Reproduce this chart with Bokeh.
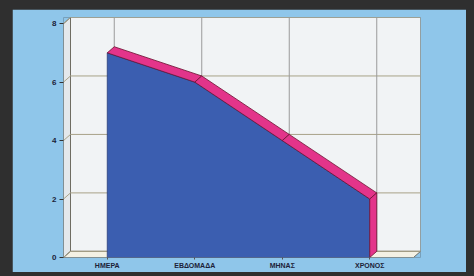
from bokeh.plotting import figure
from bokeh.models import FixedTicker
from bokeh.embed import file_html
from bokeh.resources import INLINE

# ---- data ----
categories = ["ΗΜΕΡΑ", "ΕΒΔΟΜΑΔΑ", "ΜΗΝΑΣ", "ΧΡΟΝΟΣ"]
values = [7, 6, 4, 2]
y_ticks = [0, 2, 4, 6, 8]

# ---- style ----
DX = 0.08    # depth offset in x (category units)
DY = 0.21    # depth offset in y (value units)
BG = "#8fc6ea"
WALL = "#f1f3f5"
SIDE = "#e4e8eb"
FLOOR = "#f4f1e4"
GRID = "#a8a288"
BLUE = "#3b5eb0"
PINK = "#e3348a"
EDGE = "#6b1030"
TXT = "#1c2238"

n = len(categories)
xs = list(range(n))
x0, x1 = -0.5, n - 0.5
ymax = max(y_ticks)

p = figure(width=454, height=263, output_backend="svg", toolbar_location=None,
           x_range=(x0, x1 + DX), y_range=(0, ymax + DY),
           min_border_left=51, min_border_right=46, min_border_top=8, min_border_bottom=15)
p.margin = (9, 0, 0, 12)
p.background_fill_color = BG
p.border_fill_color = BG
p.outline_line_color = None
p.grid.visible = False

# back wall
p.quad(left=[x0 + DX], right=[x1 + DX], bottom=[DY], top=[ymax + DY],
       fill_color=WALL, line_color="#8f8a78", line_width=1)
# left wall
p.patch([x0, x0 + DX, x0 + DX, x0], [0, DY, ymax + DY, ymax],
        fill_color=SIDE, line_color="#6f6c62", line_width=1)
# floor
p.patch([x0, x1, x1 + DX, x0 + DX], [0, 0, DY, DY],
        fill_color=FLOOR, line_color="#6f6c62", line_width=1)

# grid on back wall and left wall
for t in y_ticks:
    p.line([x0 + DX, x1 + DX], [t + DY, t + DY], line_color=GRID, line_width=1)
    p.line([x0, x0 + DX], [t, t + DY], line_color=GRID, line_width=1)
for i in xs:
    p.line([i + DX, i + DX], [DY, ymax + DY], line_color="#9a9a9a", line_width=1)

# area front face
px = [xs[0]] + xs + [xs[-1]]
py = [0] + values + [0]
p.patch(px, py, fill_color=BLUE, line_color="#2b3f7a", line_width=0.8)

# top ribbon
for i in range(n - 1):
    p.patch([xs[i], xs[i + 1], xs[i + 1] + DX, xs[i] + DX],
            [values[i], values[i + 1], values[i + 1] + DY, values[i] + DY],
            fill_color=PINK, line_color=EDGE, line_width=0.8)
# right side face
p.patch([xs[-1], xs[-1], xs[-1] + DX, xs[-1] + DX],
        [0, values[-1], values[-1] + DY, DY],
        fill_color=PINK, line_color=EDGE, line_width=0.8)

# axes
p.yaxis.ticker = FixedTicker(ticks=y_ticks)
p.yaxis.axis_line_color = None
p.yaxis.major_tick_in = 0
p.yaxis.major_tick_out = 4
p.yaxis.minor_tick_line_color = None
p.yaxis.major_tick_line_color = "#333333"
p.yaxis.major_label_text_font = "Liberation Sans"
p.yaxis.major_label_text_font_style = "bold"
p.yaxis.major_label_text_font_size = "8px"
p.yaxis.major_label_text_color = TXT
p.yaxis.major_label_standoff = 3

p.xaxis.ticker = FixedTicker(ticks=xs)
p.xaxis.major_label_overrides = {i: c for i, c in zip(xs, categories)}
p.xaxis.axis_line_color = None
p.xaxis.major_tick_in = 0
p.xaxis.major_tick_out = 2
p.xaxis.minor_tick_line_color = None
p.xaxis.major_tick_line_color = "#555555"
p.xaxis.major_label_text_font = "Liberation Sans"
p.xaxis.major_label_text_font_style = "bold"
p.xaxis.major_label_text_font_size = "7px"
p.xaxis.major_label_text_color = TXT
p.xaxis.major_label_standoff = 2

html = file_html(p, INLINE)
html = html.replace("</head>", "<style>html,body{background:#2f2f2f;}</style></head>", 1)
open("out.html", "w").write(html)
